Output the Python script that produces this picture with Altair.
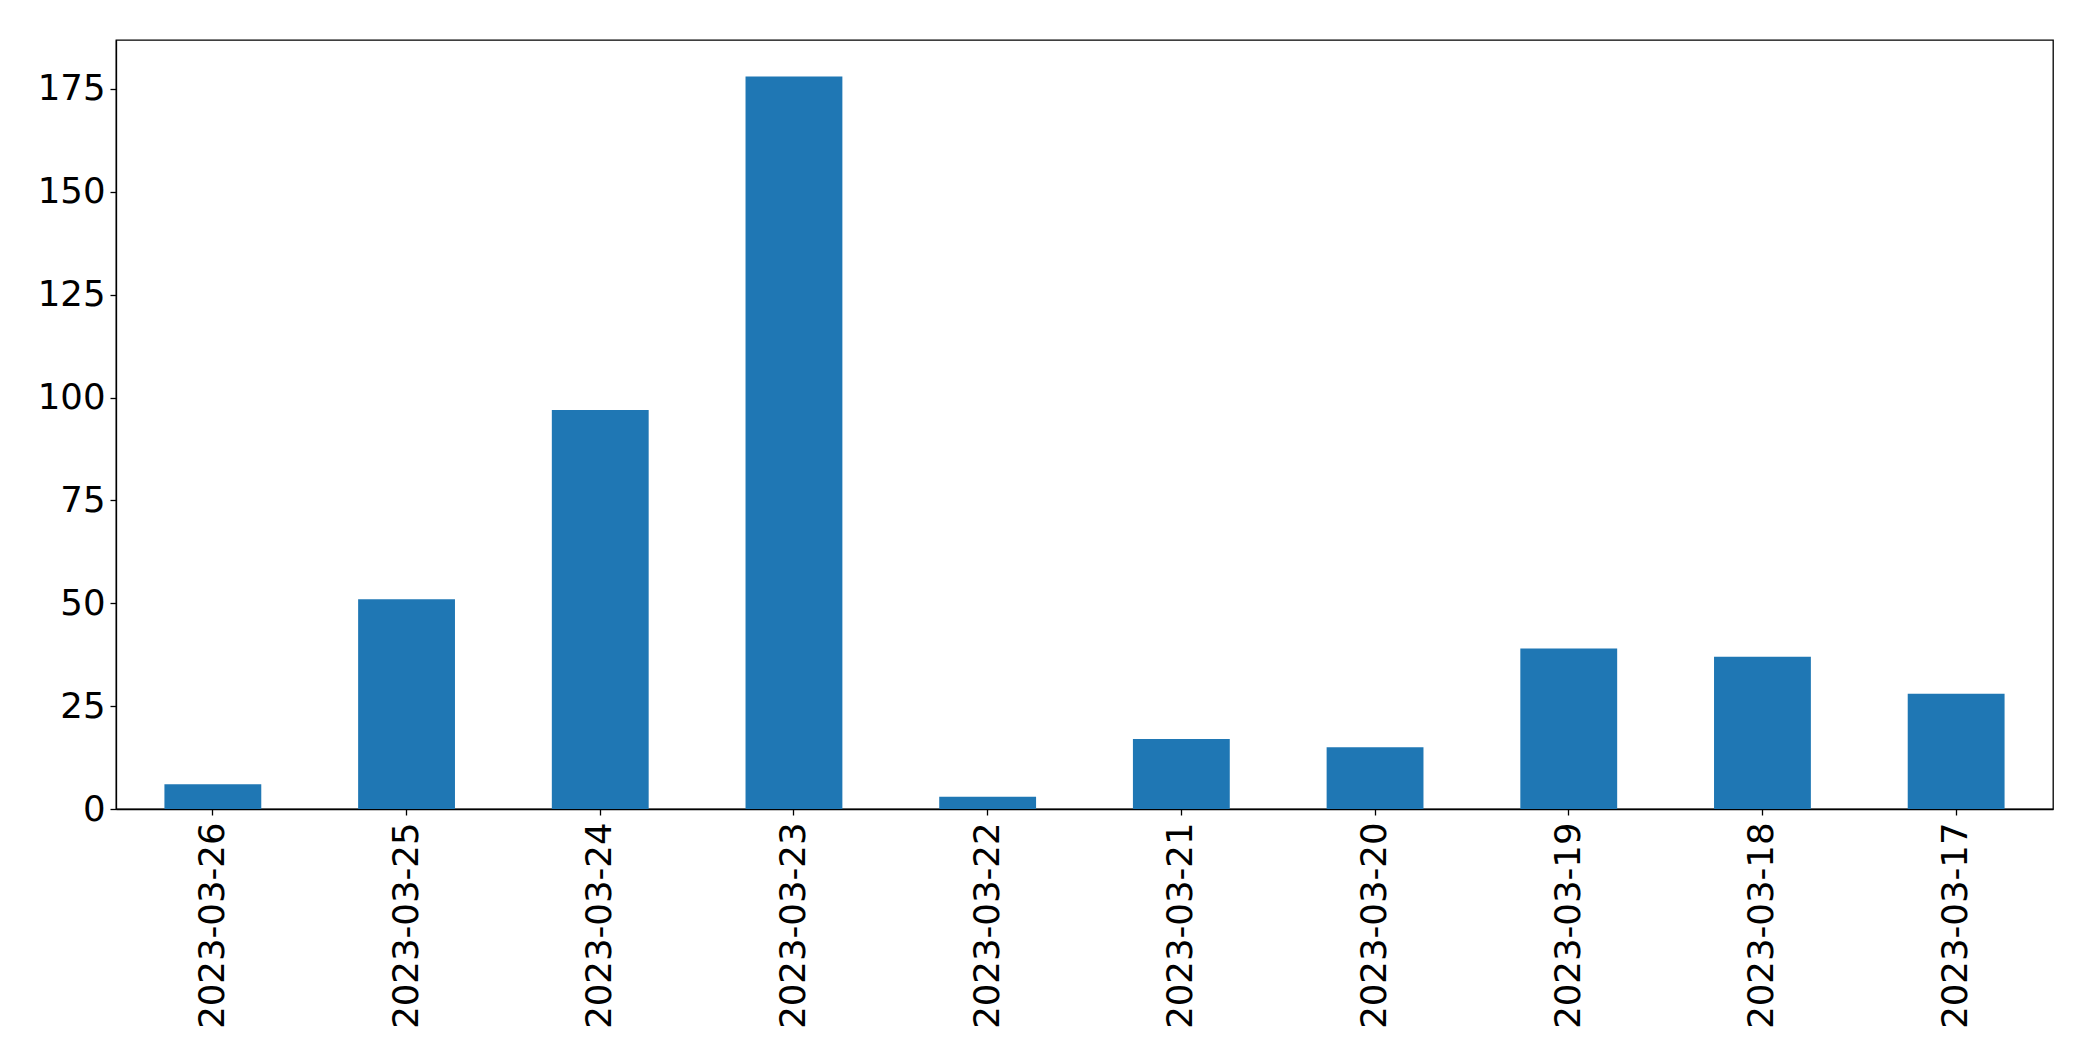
import altair as alt
import pandas as pd

dates = ["2023-03-26", "2023-03-25", "2023-03-24", "2023-03-23", "2023-03-22",
         "2023-03-21", "2023-03-20", "2023-03-19", "2023-03-18", "2023-03-17"]
counts = [6, 51, 97, 178, 3, 17, 15, 39, 37, 28]
y_ticks = [0, 25, 50, 75, 100, 125, 150, 175]

df = pd.DataFrame({"date": dates, "count": counts})

chart = alt.Chart(df).mark_bar(color="#1f77b4").encode(
    x=alt.X("date:N", sort=dates, title=None,
            scale=alt.Scale(paddingInner=0.5, paddingOuter=0.25),
            axis=alt.Axis(labelAngle=270, labelAlign="right", labelBaseline="middle",
                          labelFontSize=35.5, labelFont="DejaVu Sans", labelColor="black",
                          labelLimit=0,
                          tickColor="black", tickSize=6, tickWidth=1.3, labelPadding=7,
                          domainColor="black", domainWidth=1.3, grid=False)),
    y=alt.Y("count:Q", title=None,
            scale=alt.Scale(domain=[0, 186.9], nice=False, zero=True),
            axis=alt.Axis(values=y_ticks, labelFontSize=35.5, labelFont="DejaVu Sans",
                          labelColor="black", tickColor="black", tickSize=6, tickWidth=1.3,
                          labelPadding=5, domainColor="black", domainWidth=1.3, grid=False)),
).properties(
    width=1937, height=769,
    autosize=alt.AutoSizeParams(type="none"),
    padding={"left": 108, "top": 32, "right": 30, "bottom": 230},
).configure_view(stroke="black", strokeWidth=1.3)

chart.save("out.html", embed_options={"renderer": "svg", "actions": False})
